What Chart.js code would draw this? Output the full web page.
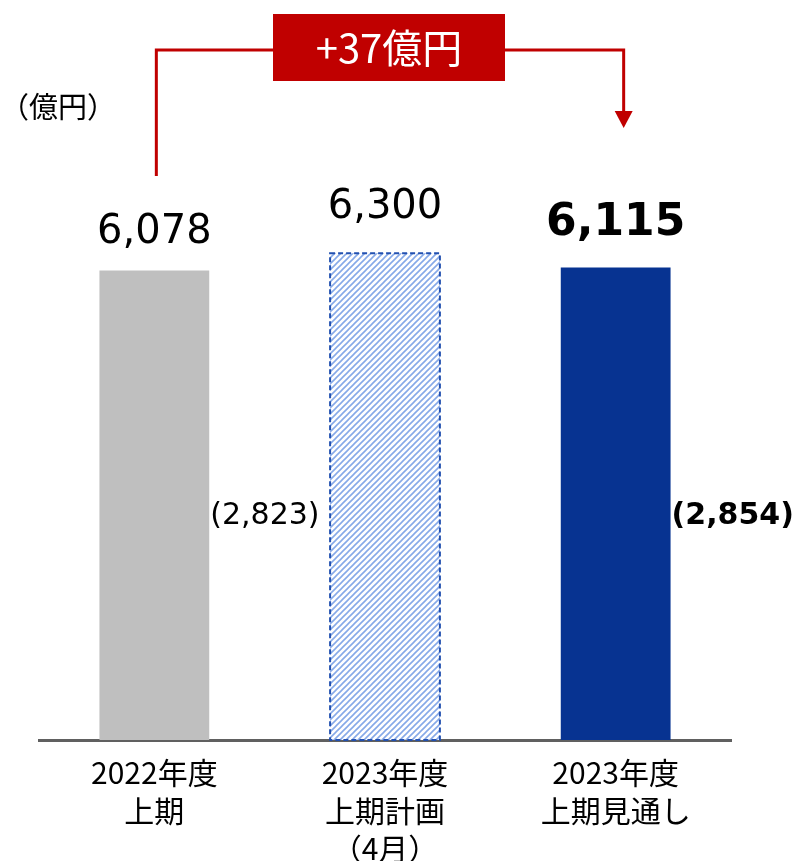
<!DOCTYPE html>
<html lang="ja">
<head>
<meta charset="UTF-8">
<title>上期 売上高</title>
<script src="https://cdn.jsdelivr.net/npm/chart.js@4"></script>
<style>
    html, body { margin: 0; padding: 0; background: #ffffff; }
    #salesChart { display: block; }
</style>
</head>
<body>
<canvas id="salesChart" width="801" height="861"></canvas>
<script>
    // データ
    const categories = [
        ['2022年度', '上期'],
        ['2023年度', '上期計画', '（4月）'],
        ['2023年度', '上期見通し']
    ];
    const totals = [6078, 6300, 6115];
    const subTotals = [2823, null, 2854];   // 括弧内の数値
    const boldLabel = [false, false, true];
    const unitLabel = '（億円）';

    const JP_FONT = '"Noto Sans CJK JP", "Noto Sans", sans-serif';
    const NUM_FONT = '"DejaVu Sans", Verdana, sans-serif';
    const RED = '#C00000';

    // 計画の棒は斜線パターン
    function makeHatch() {
        const c = document.createElement('canvas');
        c.width = 6; c.height = 6;
        const g = c.getContext('2d');
        g.fillStyle = '#ffffff';
        g.fillRect(0, 0, 6, 6);
        g.strokeStyle = '#86A9E8';
        g.lineWidth = 1.6;
        g.beginPath();
        g.moveTo(0, 6); g.lineTo(6, 0);
        g.moveTo(-1, 1); g.lineTo(1, -1);
        g.moveTo(5, 7); g.lineTo(7, 5);
        g.stroke();
        return g.createPattern(c, 'repeat');
    }

    const fmt = v => v.toLocaleString('en-US');

    const annotations = {
        id: 'annotations',
        afterDatasetsDraw(chart) {
            const ctx = chart.ctx;
            const bars = chart.getDatasetMeta(0).data;
            const area = chart.chartArea;
            ctx.save();

            // 計画の棒の破線枠
            const p = bars[1];
            ctx.setLineDash([5, 3]);
            ctx.strokeStyle = '#2250B0';
            ctx.lineWidth = 2;
            ctx.strokeRect(p.x - p.width / 2, p.y, p.width, p.base - p.y);
            ctx.setLineDash([]);

            // 棒の上の数値
            const gaps = [27, 35, 33];
            ctx.fillStyle = '#000000';
            ctx.textAlign = 'center';
            ctx.textBaseline = 'alphabetic';
            bars.forEach((b, i) => {
                ctx.font = boldLabel[i] ? 'bold 44px ' + NUM_FONT : '40px ' + NUM_FONT;
                ctx.fillText(fmt(totals[i]), b.x, b.y - gaps[i]);
            });

            // 括弧内の数値
            ctx.textAlign = 'left';
            ctx.textBaseline = 'middle';
            bars.forEach((b, i) => {
                if (subTotals[i] == null) return;
                ctx.font = (boldLabel[i] ? 'bold ' : '') + '30px ' + NUM_FONT;
                ctx.fillText('(' + fmt(subTotals[i]) + ')', b.x + b.width / 2 + 1, area.bottom - 224);
            });

            // 単位
            ctx.font = '29px ' + JP_FONT;
            ctx.fillText(unitLabel, 0, 107);

            // 増減の吹き出し
            const from = bars[0], to = bars[2];
            const lineY = 50;
            ctx.strokeStyle = RED;
            ctx.fillStyle = RED;
            ctx.lineWidth = 3;
            ctx.beginPath();
            ctx.moveTo(from.x + 2, 176);
            ctx.lineTo(from.x + 2, lineY);
            ctx.lineTo(to.x + 8, lineY);
            ctx.lineTo(to.x + 8, 112);
            ctx.stroke();
            ctx.beginPath();
            ctx.moveTo(to.x - 1, 111);
            ctx.lineTo(to.x + 17, 111);
            ctx.lineTo(to.x + 8, 128);
            ctx.closePath();
            ctx.fill();

            const cx = (from.x + to.x) / 2 + 4;
            ctx.fillRect(cx - 116, 14, 232, 67);
            ctx.fillStyle = '#ffffff';
            ctx.font = '40px ' + JP_FONT;
            ctx.textAlign = 'center';
            ctx.fillText('+' + (totals[2] - totals[0]) + '億円', cx, 48);

            ctx.restore();
        }
    };

    const ctx = document.getElementById('salesChart').getContext('2d');
    new Chart(ctx, {
        type: 'bar',
        data: {
            labels: categories,
            datasets: [{
                data: totals,
                backgroundColor: ['#BFBFBF', makeHatch(), '#073391'],
                borderWidth: 0,
                barPercentage: 0.476,
                categoryPercentage: 1
            }]
        },
        options: {
            responsive: false,
            animation: false,
            layout: { padding: { top: 122, left: 39, right: 70, bottom: 0 } },
            plugins: { legend: { display: false }, tooltip: { enabled: false } },
            scales: {
                y: { display: false, min: 0, max: 8000 },
                x: {
                    grid: { display: false },
                    border: { color: '#606060', width: 3 },
                    ticks: {
                        color: '#000000',
                        padding: 6,
                        font: { family: JP_FONT, size: 30, lineHeight: 1.26 }
                    },
                    afterFit(scale) { scale.height = 121; }
                }
            }
        },
        plugins: [annotations]
    });
</script>
</body>
</html>
